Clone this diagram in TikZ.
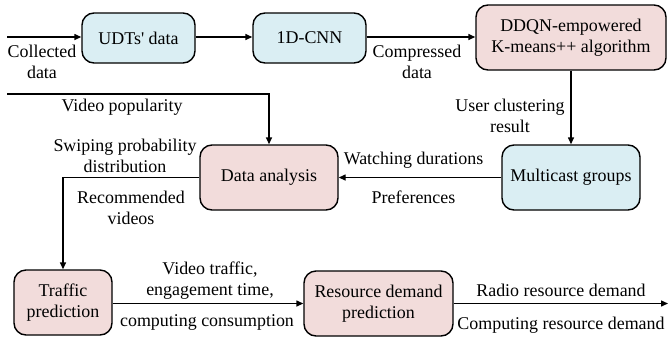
\documentclass[tikz,border=0pt]{standalone}
\usepackage{fontspec}
\setmainfont{Liberation Serif}[Ligatures=TeXOff]
\usetikzlibrary{arrows.meta}
\definecolor{boxblue}{HTML}{DAEEF3}
\definecolor{boxpink}{HTML}{F2DCDB}
\tikzset{
  box/.style={draw=black, line width=1.4bp, rounded corners=12bp, align=center, inner sep=0pt},
  bluebox/.style={box, fill=boxblue},
  pinkbox/.style={box, fill=boxpink},
  lbl/.style={align=center, inner sep=0pt},
  conn/.style={line width=1.4bp, -{Triangle[length=7bp,width=6bp]}},
  plain/.style={line width=1.4bp},
}
\begin{document}
\begin{tikzpicture}[x=1bp, y=-1bp, font=\fontsize{18}{21}\selectfont]
\useasboundingbox (0,0) rectangle (669,341);
% boxes
\node[bluebox, minimum width=113bp, minimum height=50bp] (udt) at (138.5,38) {UDTs' data};
\node[bluebox, minimum width=113bp, minimum height=50bp] (cnn) at (309.5,38) {1D-CNN};
\node[pinkbox, minimum width=190bp, minimum height=65bp] (ddqn) at (571,37.5) {DDQN-empowered\\K-means++ algorithm};
\node[bluebox, minimum width=138bp, minimum height=65bp] (mc) at (571,177.5) {Multicast groups};
\node[pinkbox, minimum width=138bp, minimum height=65bp] (da) at (269,177.5) {Data analysis};
\node[pinkbox, minimum width=98bp, minimum height=65bp] (tp) at (63,302.5) {Traffic\\prediction};
\node[pinkbox, minimum width=149bp, minimum height=65bp] (rd) at (378.5,303.5) {Resource demand\\prediction};
% free ends
\coordinate (cin) at (7,37);
\coordinate (vp) at (7,94);
\coordinate (out) at (668,303.5);
% connectors
\draw[conn] (cin) -- (cin -| udt.west);
\draw[conn] (udt.east |- cin) -- (cnn.west |- cin);
\draw[conn] (cnn.east |- cin) -- (ddqn.west |- cin);
\draw[conn] (ddqn.south) -- (mc.north);
\draw[conn] (mc.west) -- (da.east);
\draw[conn] (vp) -- (vp -| da.north) -- (da.north);
\draw[conn] (da.west) -- (da.west -| tp.north) -- (tp.north);
\draw[conn] (tp.east |- rd.west) -- (rd.west);
\draw[conn] (rd.east) -- (out);
% labels
\node[lbl] (l1) at (42,62) {Collected\\data};
\node[lbl] (l2) at (417,62) {Compressed\\data};
\node[lbl] (l3) at (510,115.5) {User clustering\\result};
\node[lbl] (l4) at (122,107) {Video popularity};
\node[lbl] (l5) at (125,156) {Swiping probability\\distribution};
\node[lbl] (l6) at (131,207.5) {Recommended\\videos};
\node[lbl] (l7) at (413.5,160) {Watching durations};
\node[lbl] (l8) at (413.5,197) {Preferences};
\node[lbl] (l9) at (210,281) {Video traffic,\\engagement time,};
\node[lbl] (l10) at (207,322) {computing consumption};
\node[lbl] (l11) at (561,290) {Radio resource demand};
\node[lbl] (l12) at (561,325) {Computing resource demand};
\end{tikzpicture}
\end{document}
